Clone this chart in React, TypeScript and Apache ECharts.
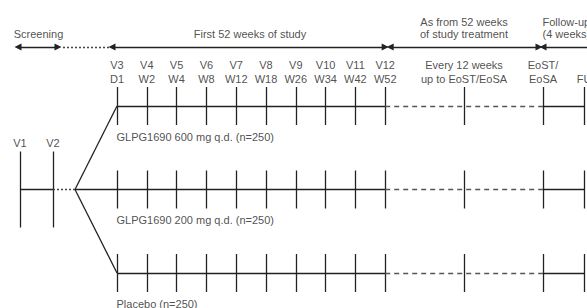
import React, { useEffect, useRef } from 'react';
import * as echarts from 'echarts';

// ---- Study design data ----
const PERIODS = ['Screening', 'First 52 weeks of study', 'As from 52 weeks', 'of study treatment', 'Follow-up', '(4 weeks)'];
const SCREENING_VISITS = ['V1', 'V2'];
const TREATMENT_VISITS = ['V3', 'V4', 'V5', 'V6', 'V7', 'V8', 'V9', 'V10', 'V11', 'V12'];
const TREATMENT_WEEKS = ['D1', 'W2', 'W4', 'W8', 'W12', 'W18', 'W26', 'W34', 'W42', 'W52'];
const LATER_TOP = ['Every 12 weeks', 'EoST/', ''];
const LATER_BOTTOM = ['up to EoST/EoSA', 'EoSA', 'FU'];
const ARMS = ['GLPG1690 600 mg q.d. (n=250)', 'GLPG1690 200 mg q.d. (n=250)', 'Placebo (n=250)'];

// ---- Layout (schematic positions, pixel units) ----
const W = 587, H = 308;
const X0 = 117, STEP = 29.8;
const SCREEN_X = [20, 53];
const SPLIT_X = 75;
const LATER_X = [464, 543, 584];
const ARM_Y0 = 106, ARM_DY = 83.5;
const TICK = 19;
const ROW_ARROW = 47, ROW_PERIOD = 34, ROW_PERIOD1 = 22, ROW_V = 65, ROW_W = 79;

const FONT = { fontFamily: 'Liberation Sans, Arial, sans-serif', fontSize: 11, color: '#222' };
const INK = '#222';

export default function App() {
  const ref = useRef<HTMLDivElement>(null);
  useEffect(() => {
    document.body.style.margin = '0';
    const chart = echarts.init(ref.current!, null, { renderer: 'svg' });
    const vx = (i: number) => X0 + i * STEP;
    const lastX = vx(TREATMENT_VISITS.length - 1);
    const armY = (i: number) => ARM_Y0 + i * ARM_DY;
    const midY = armY(1);

    const solid: any[] = [];
    const dashed: any[] = [];
    const dotted: any[] = [];
    const arrows: any[] = [];

    // period arrows
    arrows.push({ coords: [[18, ROW_ARROW], [58, ROW_ARROW]] });
    dotted.push({ coords: [[63, ROW_ARROW], [110, ROW_ARROW]] });
    arrows.push({ coords: [[X0 - 5, ROW_ARROW], [lastX, ROW_ARROW]] });
    arrows.push({ coords: [[lastX + 5, ROW_ARROW], [LATER_X[1] - 4, ROW_ARROW]] });
    arrows.push({ coords: [[LATER_X[1], ROW_ARROW], [W + 6, ROW_ARROW]] });

    // screening
    SCREENING_VISITS.forEach((_, i) => {
      solid.push({ coords: [[SCREEN_X[i], midY - 38], [SCREEN_X[i], midY + 38]] });
    });
    solid.push({ coords: [[SCREEN_X[0], midY], [SCREEN_X[1], midY]] });
    dotted.push({ coords: [[SCREEN_X[1], midY], [SPLIT_X, midY]] });

    // arms
    ARMS.forEach((_, a) => {
      const y = armY(a);
      solid.push({ coords: [[SPLIT_X, midY], [X0, y]] });
      solid.push({ coords: [[X0, y], [lastX, y]] });
      dashed.push({ coords: [[lastX, y], [LATER_X[1], y]] });
      solid.push({ coords: [[LATER_X[1], y], [LATER_X[2], y]] });
      TREATMENT_VISITS.forEach((_, i) => {
        solid.push({ coords: [[vx(i), y - TICK], [vx(i), y + TICK]] });
      });
      LATER_X.forEach((x) => {
        solid.push({ coords: [[x, y - TICK], [x, y + TICK]] });
      });
    });

    const centerTexts: any[] = [];
    const leftTexts: any[] = [];
    centerTexts.push({ name: PERIODS[0], value: [38.5, ROW_PERIOD] });
    centerTexts.push({ name: PERIODS[1], value: [250, ROW_PERIOD] });
    centerTexts.push({ name: PERIODS[2], value: [LATER_X[0], ROW_PERIOD1] });
    centerTexts.push({ name: PERIODS[3], value: [LATER_X[0], ROW_PERIOD] });
    leftTexts.push({ name: PERIODS[4], value: [LATER_X[1] - 0.5, ROW_PERIOD1] });
    leftTexts.push({ name: PERIODS[5], value: [LATER_X[1] - 0.5, ROW_PERIOD] });
    TREATMENT_VISITS.forEach((v, i) => {
      centerTexts.push({ name: v, value: [vx(i), ROW_V] });
      centerTexts.push({ name: TREATMENT_WEEKS[i], value: [vx(i), ROW_W] });
    });
    LATER_X.forEach((x, i) => {
      if (LATER_TOP[i]) centerTexts.push({ name: LATER_TOP[i], value: [x, ROW_V] });
      centerTexts.push({ name: LATER_BOTTOM[i], value: [x, ROW_W] });
    });
    SCREENING_VISITS.forEach((v, i) => {
      centerTexts.push({ name: v, value: [SCREEN_X[i], midY - 47] });
    });
    ARMS.forEach((a, i) => {
      leftTexts.push({ name: a, value: [X0 - 0.5, armY(i) + 30.5] });
    });

    const lineBase = {
      type: 'lines',
      coordinateSystem: 'cartesian2d',
      silent: true,
      z: 2,
    };

    chart.setOption({
      animation: false,
      tooltip: { show: false },
      grid: { left: 0, right: 0, top: 0, bottom: 0, containLabel: false },
      xAxis: { type: 'value', min: 0, max: W, show: false },
      yAxis: { type: 'value', min: 0, max: H, inverse: true, show: false },
      series: [
        { ...lineBase, data: solid, lineStyle: { color: INK, width: 1.3, opacity: 1, type: 'solid' } },
        { ...lineBase, data: dashed, lineStyle: { color: '#555', width: 1.3, opacity: 1, type: [5, 4] } },
        { ...lineBase, data: dotted, lineStyle: { color: '#444', width: 1.3, opacity: 1, type: [2, 2] } },
        {
          ...lineBase,
          data: arrows,
          symbol: ['triangle', 'triangle'],
          symbolSize: 7,
          lineStyle: { color: INK, width: 1.3, opacity: 1, type: 'solid' },
        },
        {
          type: 'scatter',
          silent: true,
          symbolSize: 1,
          itemStyle: { color: 'rgba(0,0,0,0)' },
          data: centerTexts,
          label: {
            show: true,
            position: 'inside',
            formatter: (p: any) => p.name,
            align: 'center',
            verticalAlign: 'middle',
            ...FONT,
          },
        },
        {
          type: 'scatter',
          silent: true,
          symbolSize: 1,
          itemStyle: { color: 'rgba(0,0,0,0)' },
          data: leftTexts,
          label: {
            show: true,
            position: 'inside',
            formatter: (p: any) => p.name,
            align: 'left',
            verticalAlign: 'middle',
            ...FONT,
          },
        },
      ],
    });
    return () => chart.dispose();
  }, []);
  return (
    <div style={{ position: 'absolute', left: 0, top: 0, width: W, height: H }}>
      <div ref={ref} style={{ width: W, height: H, background: '#fff' }} />
    </div>
  );
}
